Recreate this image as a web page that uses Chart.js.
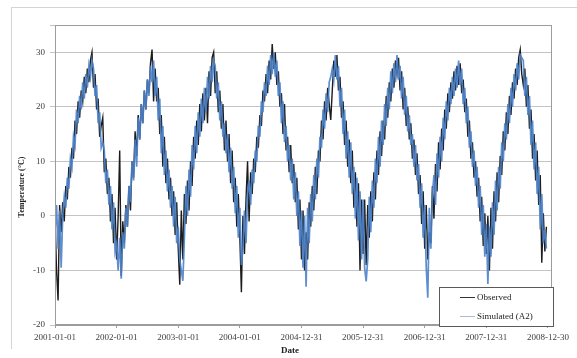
<!DOCTYPE html>
<html>
<head>
<meta charset="utf-8">
<script src="https://cdn.jsdelivr.net/npm/chart.js@4.4.1/dist/chart.umd.min.js"></script>
<style>
  html, body { margin: 0; padding: 0; background: #fff; overflow: hidden; }
  #wrap { position: relative; width: 577px; height: 358px; }
  #frame { position: absolute; left: 11px; top: 7px; width: 580px; height: 341px;
           border-left: 1px solid #d4d4d4; border-top: 1px solid #d4d4d4; }
  .title { position: absolute; font: bold 8px "Liberation Serif", serif; color: #222; white-space: nowrap; }
  #ytitle { left: 21px; top: 187px; transform: translate(-50%, -50%) rotate(-90deg); }
  #xtitle { left: 290px; top: 350px; transform: translate(-50%, -50%); font-size: 9px; }
  #legend { position: absolute; left: 439px; top: 287px; width: 113px; height: 38px;
            border: 1px solid #5a5a5a; background: #fff; font: 9px "Liberation Serif", serif; color: #222; }
  .row { position: absolute; left: 20px; height: 10px; line-height: 10px; white-space: nowrap; }
  .row span { display: inline-block; width: 15px; height: 0; border-top: 1px solid; vertical-align: middle; margin-right: 2px; }
</style>
</head>
<body>
<div id="wrap">
  <div id="frame"></div>
  <canvas id="chart"></canvas>
  <div class="title" id="ytitle">Temperature (°C)</div>
  <div class="title" id="xtitle">Date</div>
  <div id="legend">
    <div class="row" style="top:4px"><span style="border-color:#333"></span>Observed</div>
    <div class="row" style="top:23px"><span style="border-color:#a9bbd6"></span>Simulated (A2)</div>
  </div>
</div>
<script>
// tick labels on the date axis (one every 365 days)
const tickLabels = ['2001-01-01', '2002-01-01', '2003-01-01', '2004-01-01', '2004-12-31',
                    '2005-12-31', '2006-12-31', '2007-12-31', '2008-12-30'];

// daily temperature, 40 samples per year (about every 9 days)
const obs2001 = [0, -10, -15.5, 2, -3, 2.5, -1, 5.5, 3, 9, 7, 12.5, 10.5, 17.5, 15, 21, 18, 23, 21, 25.5, 22.5, 27, 24.5, 28.5, 30, 23.5, 26, 19.5, 21.5, 14.5, 16.5, 18, 8, 10.5, 4, 7, -1, 4, -5, 1.5];
const obs2002 = [-8, 0, 12, -11, -1, -5, 2, -2, 5.5, 1, 10, 7, 15.5, 11, 18.5, 14, 20.5, 17, 23, 19.5, 25, 22.5, 28, 30.5, 21, 27, 21, 23.5, 15, 18.5, 9, 14.5, 6, 10.5, 3, 7, 0, 4.5, -3.5, 2.5];
const obs2003 = [-6, -12.6, 1, -8, 4, -1.5, 6.5, 1, 10, 5.5, 14.5, 10.5, 17.5, 13, 20.5, 15.5, 22.5, 17.5, 23.5, 17, 26.5, 22, 29, 30, 22.5, 26.5, 19, 23, 16, 20.5, 12, 17.5, 10, 15, 6, 12, 2.5, 7, -2, 4];
const obs2004 = [-4, -14, 0, -7, 3, 10, -1, 8, 4, 10.5, 8, 14.5, 12.5, 18.5, 16.5, 23, 21, 26, 22.5, 28.5, 25, 31.5, 27, 30, 24, 26.5, 20, 22.5, 15, 20.5, 12, 14.5, 8, 13, 6, 9.5, 2.5, 7, -2.5, 3];
const obs2005 = [-8, 1, -10, -3, -8, 2.5, -2, 5.5, 1, 9, 4, 12, 10, 17.5, 14, 21, 17.5, 23.5, 20.5, 17.6, 23, 28.5, 25.5, 29.5, 23, 25.5, 18, 21, 13, 17.5, 9, 14, 6, 12, 1.5, 8, -2, 6, -10, 3];
const obs2006 = [-7, 3, -9, 2, -4, 4.5, -1, 8, 3, 12, 7.5, 15.5, 11, 17.5, 14, 22, 18, 24.5, 21, 27, 23.5, 28.5, 26, 29, 23, 26.5, 19.5, 23.5, 16.5, 20, 14, 17, 10.5, 14, 7.5, 11.5, 4, 7.5, -1.5, 4.5];
const obs2007 = [-6, 2, -8, -3, -5, 5.5, -0.5, 9.5, 4.5, 13.5, 8.5, 16, 12, 19.5, 16, 22.5, 19, 24.5, 21.5, 26.5, 23, 27.5, 24, 28, 22.5, 25, 19, 21.5, 14.5, 17.5, 10.5, 13.5, 7, 10, 3.5, 7, -1, 3.5, -5.5, 0.5];
const obs2008 = [-7, 0, -10, 1.5, -6, 4.5, -1, 8, 2.5, 11, 7.5, 15.5, 12, 19, 15, 22, 18.5, 24.5, 21.5, 27, 24, 29, 30.5, 26, 24, 27, 20, 24, 16, 19.5, 10.5, 15, 6.5, 12, 2, 7.5, -8.6, 0.5, -6.5, -2];

const sim2001 = [-3, 2, -6, 1, -9.5, 0, 3.5, 1.5, 7, 5, 10.5, 9, 14.5, 13, 19.5, 17, 22, 19.5, 24.5, 21.5, 26, 23.5, 27.5, 25.5, 28.5, 27, 22, 24, 17, 19, 12.5, 13.5, 12, 6, 8.5, 2, 5.5, -2.5, 2.5, -6.5];
const sim2002 = [-5, -10, -4, -11.5, -3, -6, 1.5, -2, 5.5, 2.5, 10, 6.5, 14, 9, 18, 14, 20.5, 17, 23, 19.5, 25, 22, 27.5, 24.5, 28.5, 22, 25.5, 17.5, 21.5, 11.5, 16.5, 7.5, 12, 4.5, 8.5, 1.5, 5.5, -2, 3.5, -5];
const sim2003 = [-2, -8, -10, -11.9, -4, 5.5, 0, 8.5, 3.5, 13, 8.5, 16.5, 11.5, 19, 14.5, 21.5, 17, 23.5, 19, 25.5, 21.5, 27.5, 24.5, 28.5, 27.5, 21.5, 24.5, 17.5, 21, 14.5, 17, 11.5, 15, 8, 12.5, 5, 9, 0.5, 5.5, -4];
const sim2004 = [1.5, -9, -6, 1, -5, 4, 6.5, 2, 8.5, 6, 12, 10, 16.5, 14.5, 21, 19, 24.5, 22, 27.5, 24, 29.5, 26, 30, 25.5, 28.5, 22, 24.5, 17, 21, 13.5, 16.5, 10, 13, 6.5, 10.5, 3, 8, 0, 4.5, -5.5];
const sim2005 = [1, -9.5, 0, -13, 1.5, -5, 4, -1, 7.5, 3, 10.5, 7, 14.5, 12.5, 19.5, 16, 22.5, 19, 24.5, 25.5, 27, 25, 29.5, 25, 27.5, 20, 23.5, 15, 19.5, 10.5, 15.5, 7, 13.5, 4, 9, -0.5, 7, -4.5, 4.5, -8];
const sim2006 = [3, -9.5, -12, -8, 3.5, -3, 6.5, 1.5, 10.5, 6, 14.5, 9, 17.5, 13, 20.5, 16.5, 23.5, 19.5, 26.5, 22.5, 28, 24.5, 29.5, 25, 27.5, 21.5, 25.5, 18.5, 22, 15.5, 18.5, 13, 15, 9, 13, 6.5, 9.5, 1.5, 6, -4];
const sim2007 = [2, -9.5, -15, 1.5, -6, 4, 7.5, 2, 11.5, 7, 14.5, 10, 18, 14, 21, 17.5, 23.5, 20.5, 25.5, 22, 27, 23.5, 28.5, 24, 27, 20.5, 23.5, 17, 20, 12.5, 15.5, 9, 12, 5.5, 9, 1.5, 5.5, -3.5, 2, -7.5];
const sim2008 = [-1.5, -12.5, -2, -7.5, 2.5, -3.5, 6.5, 1, 9, 5, 13.5, 10, 17, 14, 20.5, 17, 23.5, 20, 26, 23, 28, 25, 29.5, 29, 28.5, 22, 25.5, 18.5, 22, 13, 17.5, 8.5, 13.5, 4, 9, -2.5, 4, -5, -2.5, -6];

const observed = [obs2001, obs2002, obs2003, obs2004, obs2005, obs2006, obs2007, obs2008];
const simulated = [sim2001, sim2002, sim2003, sim2004, sim2005, sim2006, sim2007, sim2008];

// turn the yearly arrays into {x: day, y: value} points
function toPoints(years) {
    const points = [];
    years.forEach((vals, k) => {
        const step = 365 / vals.length;
        vals.forEach((v, j) => points.push({ x: k * 365 + j * step, y: v }));
    });
    return points;
}

const tickDays = tickLabels.map((_, i) => i * 365);

// gray frame round the plot area
const plotBorder = {
    id: 'plotBorder',
    afterDraw(chart) {
        const { ctx, chartArea: a } = chart;
        ctx.save();
        ctx.strokeStyle = '#9c9c9c';
        ctx.lineWidth = 1;
        ctx.strokeRect(a.left + 0.5, a.top + 0.5, a.right - a.left - 1, a.bottom - a.top - 1);
        ctx.restore();
    }
};

Chart.defaults.font.family = '"Liberation Serif", serif';
Chart.defaults.font.size = 9;
Chart.defaults.color = '#404040';

new Chart(document.getElementById('chart'), {
    type: 'line',
    data: {
        datasets: [
            { label: 'Observed', data: toPoints(observed), borderColor: '#1c1c1c', borderWidth: 1.4, order: 1 },
            { label: 'Simulated (A2)', data: toPoints(simulated), borderColor: 'rgba(76,130,200,0.9)', borderWidth: 1.7, order: 0 }
        ]
    },
    options: {
        responsive: true,
        maintainAspectRatio: false,
        animation: false,
        layout: { padding: { top: 25, right: 25, left: 0, bottom: 0 } },
        elements: {
            line: { tension: 0 },
            point: { radius: 0 }
        },
        plugins: { legend: { display: false }, tooltip: { enabled: false } },
        scales: {
            x: {
                type: 'linear',
                min: 0,
                max: 2944,
                afterBuildTicks(s) { s.ticks = tickDays.map(v => ({ value: v })); },
                afterFit(s) { s.height = 33; },
                ticks: {
                    autoSkip: false,
                    maxRotation: 0,
                    padding: 4,
                    callback: (v, i) => tickLabels[i]
                },
                grid: { drawOnChartArea: false, tickLength: 3, color: '#9c9c9c' },
                border: { color: '#9c9c9c' }
            },
            y: {
                min: -20,
                max: 35,
                afterFit(s) { s.width = 55; },
                ticks: {
                    stepSize: 10,
                    padding: 5,
                    callback: v => (v > 30 ? '' : v)
                },
                grid: { color: '#c4c4c4', tickLength: 5 },
                border: { color: '#9c9c9c' }
            }
        }
    },
    plugins: [plotBorder]
});
</script>
</body>
</html>
